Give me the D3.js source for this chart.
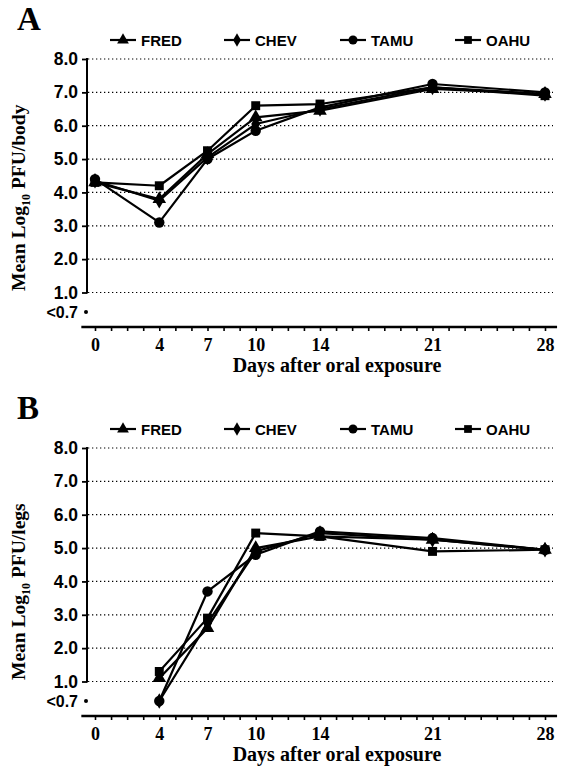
<!DOCTYPE html>
<html>
<head>
<meta charset="utf-8">
<script src="https://cdn.jsdelivr.net/npm/d3@7"></script>
<style>
  body { margin: 0; background: #fff; }
  svg { display: block; }
</style>
</head>
<body>
<script>
// days sampled
const days = [0, 4, 7, 10, 14, 21, 28];
const strains = ["FRED", "CHEV", "TAMU", "OAHU"];
const yTicks = [1, 2, 3, 4, 5, 6, 7, 8];

// panel A: whole body (0.7 = below detection)
const bodyFRED = [4.3, 3.8, 5.15, 6.25, 6.45, 7.1, 6.95];
const bodyCHEV = [4.35, 3.75, 5.05, 6.05, 6.5, 7.15, 6.95];
const bodyTAMU = [4.4, 3.1, 5.0, 5.85, 6.55, 7.25, 7.0];
const bodyOAHU = [4.3, 4.2, 5.25, 6.6, 6.65, 7.15, 6.9];

// panel B: legs (no sample at day 0)
const legsFRED = [null, 1.1, 2.6, 5.0, 5.35, 5.25, 4.95];
const legsCHEV = [null, 0.7, 2.75, 4.9, 5.45, 5.25, 4.95];
const legsTAMU = [null, 0.7, 3.7, 4.8, 5.5, 5.3, 4.95];
const legsOAHU = [null, 1.3, 2.9, 5.45, 5.35, 4.9, 4.95];

const width = 564, height = 771;
const sans = "'Liberation Sans', Arial, sans-serif";
const serif = "'Liberation Serif', 'Times New Roman', serif";

const svg = d3.select("body").append("svg")
  .attr("width", width).attr("height", height);

const x = d3.scaleLinear().domain([0, 28]).range([95, 545]);
// 0.7 is the "<0.7" row sitting below the break
const y = d3.scaleLinear().domain([0.7, 1, 8]).range([312, 292.5, 59]);

const symbols = [d3.symbolTriangle, d3.symbolDiamond, d3.symbolCircle, d3.symbolSquare];
const symSize = [80, 70, 85, 80];

function panel(offset, letter, unit, seriesList) {
  const g = svg.append("g").attr("transform", `translate(0,${offset})`);

  g.append("text").attr("x", 17).attr("y", 30)
    .attr("font-family", serif).attr("font-weight", "bold").attr("font-size", 33)
    .text(letter);

  // legend
  const legX = [110, 224, 340, 455];
  strains.forEach((s, i) => {
    const lg = g.append("g").attr("transform", `translate(${legX[i]},40)`);
    lg.append("line").attr("x1", 0).attr("x2", 26).attr("y1", 0).attr("y2", 0)
      .attr("stroke", "#000").attr("stroke-width", 2.2);
    lg.append("path").attr("transform", "translate(13,0)")
      .attr("d", d3.symbol().type(symbols[i]).size(symSize[i] * 0.75)());
    lg.append("text").attr("x", 31).attr("y", 5.5)
      .attr("font-family", sans).attr("font-weight", "bold").attr("font-size", 15)
      .text(s);
  });

  // grid
  g.selectAll("line.grid").data(yTicks).join("line")
    .attr("class", "grid")
    .attr("x1", 88).attr("x2", 553)
    .attr("y1", d => y(d)).attr("y2", d => y(d))
    .attr("stroke", "#000").attr("stroke-width", 1.2)
    .attr("stroke-dasharray", "1.3,2.7");

  // y axis
  const ya = g.append("g").attr("transform", "translate(87,0)")
    .call(d3.axisLeft(y).tickValues(yTicks).tickSize(5).tickPadding(4)
      .tickFormat(d3.format(".1f")));
  ya.select(".domain").remove();
  ya.selectAll("line").attr("stroke-width", 1.8);
  ya.selectAll("text").attr("font-family", sans).attr("font-weight", "bold")
    .attr("font-size", 17.5).attr("fill", "#000");
  g.append("line").attr("x1", 87).attr("x2", 87)
    .attr("y1", y(8) - 1).attr("y2", y(1) + 1)
    .attr("stroke", "#000").attr("stroke-width", 2);
  g.append("text").attr("x", 78).attr("y", y(0.7)).attr("dy", "0.36em")
    .attr("text-anchor", "end")
    .attr("font-family", sans).attr("font-weight", "bold").attr("font-size", 16)
    .text("<0.7");
  g.append("circle").attr("cx", 86).attr("cy", y(0.7)).attr("r", 2);

  // x axis
  const axisY = 327;
  const xa = g.append("g").attr("transform", `translate(0,${axisY})`)
    .call(d3.axisBottom(x).tickValues(d3.range(0, 29)).tickSize(4).tickPadding(7)
      .tickFormat(d => days.includes(d) ? d : ""));
  xa.select(".domain").remove();
  xa.selectAll("line").attr("stroke-width", 1.6);
  xa.selectAll("text").attr("font-family", serif).attr("font-weight", "bold")
    .attr("font-size", 18).attr("fill", "#000");
  g.append("line").attr("x1", x(-0.85)).attr("x2", x(28.75))
    .attr("y1", axisY).attr("y2", axisY)
    .attr("stroke", "#000").attr("stroke-width", 2.4);

  g.append("text").attr("x", 337).attr("y", 372)
    .attr("text-anchor", "middle")
    .attr("font-family", serif).attr("font-weight", "bold").attr("font-size", 20)
    .text("Days after oral exposure");

  const yl = g.append("text")
    .attr("transform", "translate(25,291) rotate(-90)")
    .attr("font-family", serif).attr("font-weight", "bold").attr("font-size", 19.5);
  yl.append("tspan").text("Mean Log");
  yl.append("tspan").attr("font-size", 12).attr("dy", 5).text("10");
  yl.append("tspan").attr("dy", -5).text(" PFU/" + unit);

  // series
  const line = d3.line()
    .defined(d => d[1] != null)
    .x(d => x(d[0])).y(d => y(d[1]));
  seriesList.forEach((vals, i) => {
    const pts = days.map((d, j) => [d, vals[j]]);
    g.append("path").datum(pts).attr("d", line)
      .attr("fill", "none").attr("stroke", "#000").attr("stroke-width", 2.2)
      .attr("stroke-linejoin", "round");
  });
  seriesList.forEach((vals, i) => {
    const pts = days.map((d, j) => [d, vals[j]]).filter(p => p[1] != null);
    g.selectAll(null).data(pts).join("path")
      .attr("transform", p => `translate(${x(p[0])},${y(p[1])})`)
      .attr("d", d3.symbol().type(symbols[i]).size(symSize[i])());
  });
}

panel(0, "A", "body", [bodyFRED, bodyCHEV, bodyTAMU, bodyOAHU]);
panel(389, "B", "legs", [legsFRED, legsCHEV, legsTAMU, legsOAHU]);
</script>
</body>
</html>
